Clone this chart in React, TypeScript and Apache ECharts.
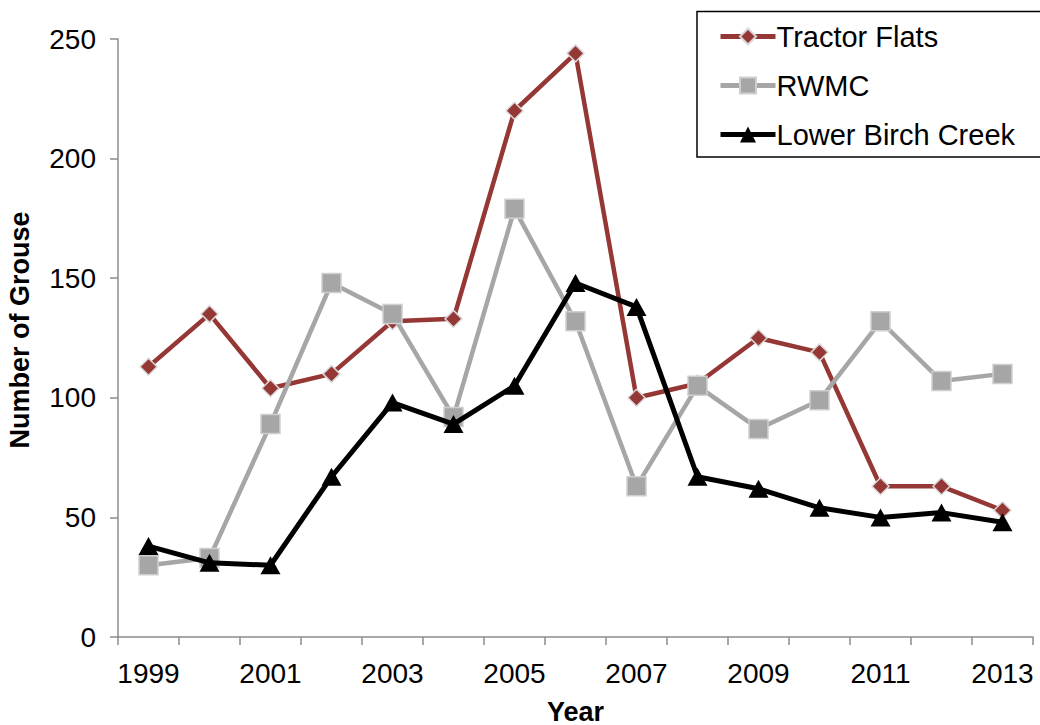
import React, { useEffect, useRef } from "react";
import * as echarts from "echarts";

const years = ["1999", "2000", "2001", "2002", "2003", "2004", "2005", "2006", "2007", "2008", "2009", "2010", "2011", "2012", "2013"];
const tractorFlats = [113, 135, 104, 110, 132, 133, 220, 244, 100, 106, 125, 119, 63, 63, 53];
const rwmc = [30, 33, 89, 148, 135, 92, 179, 132, 63, 105, 87, 99, 132, 107, 110];
const lowerBirchCreek = [38, 31, 30, 67, 98, 89, 105, 148, 138, 67, 62, 54, 50, 52, 48];

const FONT = "'Liberation Sans', Arial, sans-serif";

export default function App() {
  const ref = useRef<HTMLDivElement>(null);
  useEffect(() => {
    if (!ref.current) return;
    const chart = echarts.init(ref.current, null, { renderer: "svg" });
    chart.setOption({
      animation: false,
      backgroundColor: "#ffffff",
      textStyle: { fontFamily: FONT },
      grid: { left: 118, right: 7, top: 39, bottom: 88, containLabel: false, outerBoundsMode: "none" },
      graphic: [
        {
          type: "text",
          x: 20,
          y: 330,
          rotation: Math.PI / 2,
          style: {
            text: "Number of Grouse",
            fontSize: 27,
            fontWeight: "bold",
            fontFamily: FONT,
            fill: "#000000",
            textAlign: "center",
            textVerticalAlign: "middle",
          },
        },
        {
          type: "rect",
          z: 0,
          shape: { x: 697, y: 11.5, width: 360, height: 145.5 },
          style: { fill: "#ffffff", stroke: "#000000", lineWidth: 1.5 },
        },
      ],
      legend: {
        orient: "vertical",
        left: 697,
        top: 10,
        padding: [12, 20, 7, 21],
        itemWidth: 55,
        itemHeight: 20,
        itemGap: 20,
        borderWidth: 0,
        z: 10,
        textStyle: { fontSize: 29, color: "#000000", fontFamily: FONT, padding: [0, 0, 0, -4] },
        lineStyle: { width: 5 },
        data: ["Tractor Flats", "RWMC", "Lower Birch Creek"],
      },
      xAxis: {
        type: "category",
        data: years,
        boundaryGap: true,
        name: "Year",
        nameLocation: "middle",
        nameGap: 61,
        nameTextStyle: { fontSize: 27, fontWeight: "bold", color: "#000000", fontFamily: FONT },
        axisLine: { lineStyle: { color: "#8c8c8c", width: 1.5 } },
        axisTick: { show: true, interval: 0, length: 8, lineStyle: { color: "#8c8c8c", width: 1.5 } },
        axisLabel: { interval: 1, fontSize: 28, color: "#000000", margin: 22, fontFamily: FONT },
        splitLine: { show: false },
      },
      yAxis: {
        type: "value",
        min: 0,
        max: 250,
        interval: 50,
        axisLine: { show: true, lineStyle: { color: "#8c8c8c", width: 1.5 } },
        axisTick: { show: true, length: 8, lineStyle: { color: "#8c8c8c", width: 1.5 } },
        axisLabel: { fontSize: 28, color: "#000000", margin: 22, fontFamily: FONT },
        splitLine: { show: false },
      },
      series: [
        {
          name: "Tractor Flats",
          type: "line",
          data: tractorFlats,
          symbol: "diamond",
          symbolSize: 17,
          lineStyle: { color: "#953735", width: 4.5 },
          itemStyle: { color: "#953735", borderColor: "#d9d9d9", borderWidth: 1.5 },
          z: 2,
        },
        {
          name: "RWMC",
          type: "line",
          data: rwmc,
          symbol: "rect",
          symbolSize: 19,
          lineStyle: { color: "#a6a6a6", width: 4.5 },
          itemStyle: { color: "#a6a6a6", borderColor: "#cfcfcf", borderWidth: 1.5 },
          z: 3,
        },
        {
          name: "Lower Birch Creek",
          type: "line",
          data: lowerBirchCreek,
          symbol: "triangle",
          symbolSize: [20, 18],
          lineStyle: { color: "#000000", width: 5 },
          itemStyle: { color: "#000000" },
          z: 4,
        },
      ],
    });
    return () => chart.dispose();
  }, []);
  return <div ref={ref} style={{ width: 1040, height: 725, position: "absolute", left: 0, top: 0 }} />;
}
